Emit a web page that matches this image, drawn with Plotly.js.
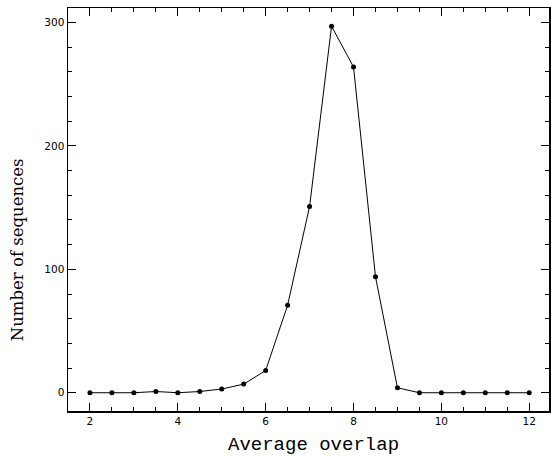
<!DOCTYPE html>
<html>
<head>
<meta charset="utf-8">
<script src="https://cdn.plot.ly/plotly-3.0.1.min.js"></script>
<style>html,body{margin:0;padding:0;background:#fff;}#chart{width:551px;height:458px;}</style>
</head>
<body>
<div id="chart"></div>
<script>
const overlap = [2, 2.5, 3, 3.5, 4, 4.5, 5, 5.5, 6, 6.5, 7, 7.5, 8, 8.5, 9, 9.5, 10, 10.5, 11, 11.5, 12];
const sequences = [0, 0, 0, 1, 0, 1, 3, 7, 18, 71, 151, 297, 264, 94, 4, 0, 0, 0, 0, 0, 0];
const xTicks = [2, 4, 6, 8, 10, 12];
const yTicks = [0, 100, 200, 300];
const xTitle = 'Average overlap';
const yTitle = 'Number of sequences';

const trace = {
  x: overlap, y: sequences, type: 'scatter', mode: 'lines+markers',
  line: {color: '#000', width: 1},
  marker: {color: '#000', size: 5},
  hoverinfo: 'skip'
};
const tickFont = {family: 'DejaVu Sans, sans-serif', size: 10.5, color: '#000'};
const layout = {
  width: 551, height: 458,
  margin: {l: 68, r: 2, t: 8, b: 47},
  paper_bgcolor: '#fff', plot_bgcolor: '#fff',
  showlegend: false,
  xaxis: {
    range: [1.5, 12.45], tickvals: xTicks, ticktext: xTicks.map(String),
    ticks: 'inside', ticklen: 8, tickwidth: 1, tickcolor: '#000',
    minor: {dtick: 0.5, ticks: 'inside', ticklen: 4, tickcolor: '#000', tickwidth: 1, showgrid: false},
    showline: true, linecolor: '#000', linewidth: 1.5, mirror: 'allticks',
    showgrid: false, zeroline: false, tickfont: tickFont
  },
  yaxis: {
    range: [-14.8, 311.8], tickvals: yTicks, ticktext: yTicks.map(String),
    ticks: 'inside', ticklen: 8, tickwidth: 1, tickcolor: '#000',
    minor: {dtick: 20, ticks: 'inside', ticklen: 4, tickcolor: '#000', tickwidth: 1, showgrid: false},
    showline: true, linecolor: '#000', linewidth: 1.5, mirror: 'allticks',
    showgrid: false, zeroline: false, tickfont: tickFont
  },
  annotations: [
    {text: xTitle, xref: 'paper', yref: 'paper', x: 0.510, y: -0.085, xanchor: 'center', yanchor: 'middle',
     showarrow: false, font: {family: 'Liberation Mono, Courier New, monospace', size: 19, color: '#000'}},
    {text: yTitle, xref: 'paper', yref: 'paper', x: -0.106, y: 0.399, xanchor: 'center', yanchor: 'middle',
     textangle: -90, showarrow: false, font: {family: 'DejaVu Serif, serif', size: 16.5, color: '#000'}}
  ]
};
Plotly.newPlot('chart', [trace], layout, {displayModeBar: false, staticPlot: true});
</script>
</body>
</html>
